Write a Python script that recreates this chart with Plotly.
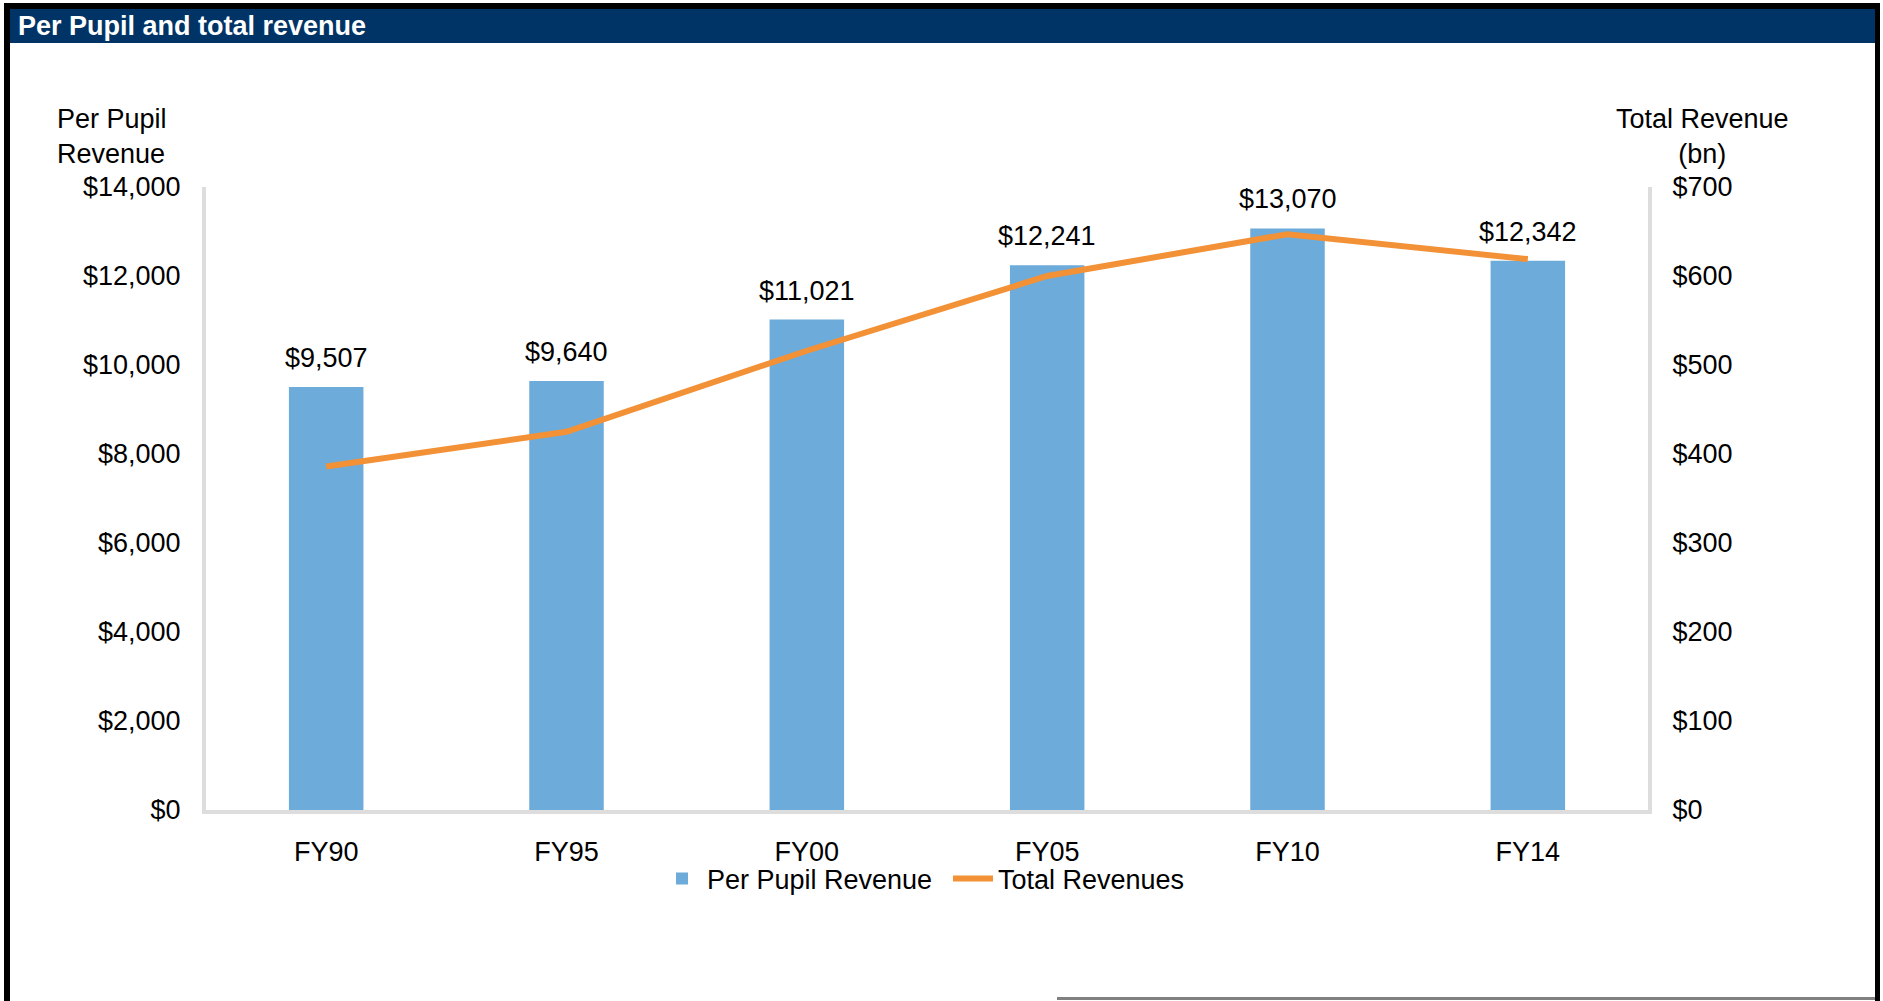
import plotly.graph_objects as go

categories = ["FY90", "FY95", "FY00", "FY05", "FY10", "FY14"]
per_pupil = [9507, 9640, 11021, 12241, 13070, 12342]
total_rev = [386, 425, 516, 600, 647, 619]
left_ticks = [0, 2000, 4000, 6000, 8000, 10000, 12000, 14000]
right_ticks = [0, 100, 200, 300, 400, 500, 600, 700]

W, H = 1883, 1001
L, R, T, B = 206, 1648, 187, 810
FONT = "Arial, Liberation Sans, sans-serif"
BAR_C = "#6DABDB"
LINE_C = "#F39137"
AX_C = "#DDDDDD"


def px(x):
    return (x - L) / (R - L)


def py(y):
    return (B - y) / (B - T)


fig = go.Figure()
fig.add_trace(go.Bar(
    x=categories, y=per_pupil, name="Per Pupil Revenue",
    marker=dict(color=BAR_C, line=dict(width=0)), yaxis="y",
))
fig.add_trace(go.Scatter(
    x=categories, y=total_rev, name="Total Revenues", mode="lines",
    line=dict(color=LINE_C, width=6), yaxis="y2",
))

annotations = []
for c, v in zip(categories, per_pupil):
    annotations.append(dict(
        x=c, y=v, xref="x", yref="y", text=f"${v:,}", showarrow=False,
        yanchor="middle", yshift=29, font=dict(family=FONT, size=27, color="black"),
    ))

annotations.append(dict(
    x=px(16), y=py(26), xref="paper", yref="paper", xanchor="left", yanchor="middle",
    text="<b>Per Pupil and total revenue</b>", showarrow=False,
    font=dict(family=FONT, size=27, color="white"),
))
annotations.append(dict(
    x=px(55), y=py(136), xref="paper", yref="paper", xanchor="left", yanchor="middle",
    align="left", text="Per Pupil<br>Revenue", showarrow=False,
    font=dict(family=FONT, size=27, color="black"),
))
annotations.append(dict(
    x=px(1702), y=py(136), xref="paper", yref="paper", xanchor="center", yanchor="middle",
    align="center", text="Total Revenue<br>(bn)", showarrow=False,
    font=dict(family=FONT, size=27, color="black"),
))

shapes = [
    dict(type="rect", xref="paper", yref="paper", x0=px(10), x1=px(1875), y0=py(9), y1=py(43),
         fillcolor="#003366", line=dict(width=0), layer="below"),
    dict(type="rect", xref="paper", yref="paper", x0=px(4), x1=px(1880), y0=py(3), y1=py(9),
         fillcolor="black", line=dict(width=0)),
    dict(type="rect", xref="paper", yref="paper", x0=px(4), x1=px(10), y0=py(3), y1=py(1001),
         fillcolor="black", line=dict(width=0)),
    dict(type="rect", xref="paper", yref="paper", x0=px(1875), x1=px(1880), y0=py(3), y1=py(1001),
         fillcolor="black", line=dict(width=0)),
    dict(type="rect", xref="paper", yref="paper", x0=px(1057), x1=px(1875), y0=py(997), y1=py(1000),
         fillcolor="#808080", line=dict(width=0)),
]

fig.update_layout(
    width=W, height=H,
    margin=dict(l=L, r=W - R, t=T, b=H - B, pad=0, autoexpand=False),
    paper_bgcolor="white", plot_bgcolor="white",
    bargap=0.69,
    showlegend=True,
    legend=dict(orientation="h", xref="container", x=657 / W, xanchor="left",
                yref="container", y=1 - 879 / H, yanchor="middle",
                font=dict(family=FONT, size=27, color="black"),
                bgcolor="rgba(0,0,0,0)", itemwidth=40, entrywidth=236,
                traceorder="normal"),
    xaxis=dict(showgrid=False, showline=True, linecolor=AX_C, linewidth=4,
               ticks="", tickfont=dict(family=FONT, size=27, color="black"),
               ticklabelstandoff=15, zeroline=False, automargin=False),
    yaxis=dict(range=[0, 14000], tickvals=left_ticks,
               ticktext=[f"${t:,}" for t in left_ticks],
               showgrid=False, showline=True, linecolor=AX_C, linewidth=4,
               ticks="", tickfont=dict(family=FONT, size=27, color="black"),
               ticklabelstandoff=16, zeroline=False, automargin=False),
    yaxis2=dict(range=[0, 700], tickvals=right_ticks,
                ticktext=[f"${t:,}" for t in right_ticks],
                overlaying="y", side="right",
                showgrid=False, showline=True, linecolor=AX_C, linewidth=4,
                ticks="", tickfont=dict(family=FONT, size=27, color="black"),
                ticklabelstandoff=15, zeroline=False, automargin=False),
    annotations=annotations,
    shapes=shapes,
)

fig.write_html("out.html", config={"displayModeBar": False},
               post_script="document.body.style.margin='0';")
